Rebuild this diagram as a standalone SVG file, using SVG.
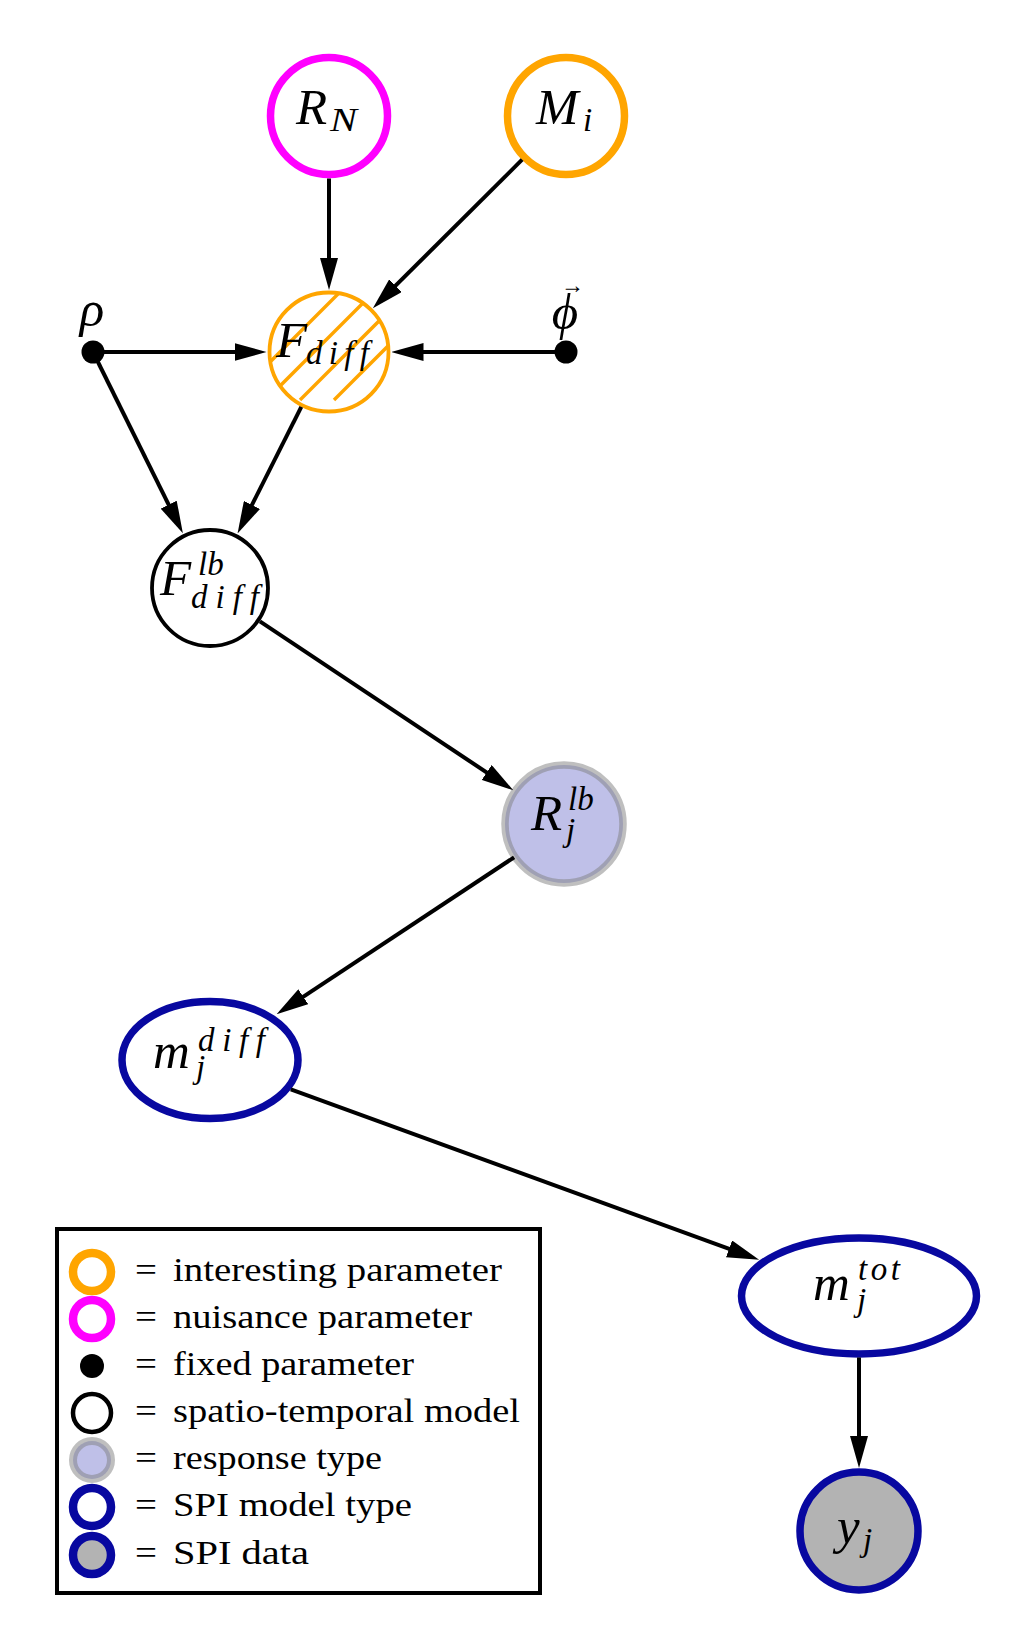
<svg xmlns="http://www.w3.org/2000/svg" width="1033" height="1651" viewBox="0 0 1033 1651">
<style>
.lbl{font-family:"Liberation Serif","DejaVu Serif",serif;font-style:italic;fill:#000}
.big{font-size:51px}
.sm{font-size:33px}
.leg{font-family:"Liberation Serif","DejaVu Serif",serif;font-size:34px;fill:#000}
.edge{stroke:#000;stroke-width:4;fill:none;marker-end:url(#ah)}
.interesting{fill:#fff;stroke:#FFA500}
.nuisance{fill:#fff;stroke:#FF00FF}
.spatio{fill:#fff;stroke:#000}
.response{fill:#bfc0e8;stroke:#808080;stroke-opacity:0.5}
.spimodel{fill:#fff;stroke:#0808A0}
.spidata{fill:#b3b3b3;stroke:#0808A0}
.fixed{fill:#000}
.hatch{stroke:#FFA500;stroke-width:3.4}
</style>
<defs>
<marker id="ah" markerUnits="userSpaceOnUse" markerWidth="32" markerHeight="18" viewBox="0 0 32 18" refX="17" refY="9" orient="auto"><path d="M0,0 L32,9 L0,18 Z" fill="#000"/></marker>
<clipPath id="fclip"><circle cx="329" cy="352" r="60"/></clipPath>
</defs>
<rect width="1033" height="1651" fill="#fff"/>

<g id="node-RN">
<circle class="nuisance" cx="329" cy="116" r="58.5" stroke-width="7.5"/>
<text class="lbl"><tspan class="big" x="296" y="124">R</tspan><tspan class="sm" x="330" y="131" textLength="27" lengthAdjust="spacingAndGlyphs">N</tspan></text>
</g>

<g id="node-Mi">
<circle class="interesting" cx="566" cy="116" r="58.5" stroke-width="7.5"/>
<text class="lbl"><tspan class="big" x="536" y="124">M</tspan><tspan class="sm" x="583" y="131">i</tspan></text>
</g>

<g id="node-Fdiff">
<circle cx="329" cy="352" r="60" fill="#fff"/>
<g clip-path="url(#fclip)">
<line class="hatch" x1="232" y1="400" x2="432" y2="200"/>
<line class="hatch" x1="266" y1="400" x2="466" y2="200"/>
<line class="hatch" x1="300" y1="400" x2="500" y2="200"/>
<line class="hatch" x1="334" y1="400" x2="534" y2="200"/>
</g>
<circle cx="329" cy="352" r="59.5" fill="none" stroke="#FFA500" stroke-width="3.8"/>
<text class="lbl"><tspan class="big" x="276" y="357">F</tspan><tspan class="sm" x="306" y="364" textLength="63" lengthAdjust="spacing">diff</tspan></text>
</g>

<g id="node-rho">
<circle class="fixed" cx="93" cy="352" r="11.5"/>
<text class="lbl big" x="92" y="326" text-anchor="middle">ρ</text>
</g>

<g id="node-phi">
<circle class="fixed" cx="566" cy="352" r="11.5"/>
<text class="lbl"><tspan class="big" x="565" y="329" text-anchor="middle">ϕ</tspan><tspan x="561" y="293" font-size="24" font-style="normal" textLength="23" lengthAdjust="spacingAndGlyphs">→</tspan></text>
</g>

<g id="node-Flb">
<circle class="spatio" cx="210" cy="588" r="58" stroke-width="3.8"/>
<text class="lbl"><tspan class="big" x="160" y="595">F</tspan><tspan class="sm" x="198" y="575">lb</tspan><tspan class="sm" x="191" y="608" textLength="68" lengthAdjust="spacing">diff</tspan></text>
</g>

<g id="node-Rlb">
<circle class="response" cx="564" cy="824" r="59" stroke-width="7.5"/>
<text class="lbl"><tspan class="big" x="531" y="830">R</tspan><tspan class="sm" x="568" y="810">lb</tspan><tspan class="sm" x="566" y="841">j</tspan></text>
</g>

<g id="node-mdiff">
<ellipse class="spimodel" cx="210" cy="1060" rx="88" ry="58.5" stroke-width="7.5"/>
<text class="lbl"><tspan class="big" x="153" y="1068">m</tspan><tspan class="sm" x="198" y="1051" textLength="67" lengthAdjust="spacing">diff</tspan><tspan class="sm" x="196" y="1078">j</tspan></text>
</g>

<g id="node-mtot">
<ellipse class="spimodel" cx="859" cy="1296" rx="117.5" ry="58" stroke-width="7.5"/>
<text class="lbl"><tspan class="big" x="813" y="1300">m</tspan><tspan class="sm" x="858" y="1280" textLength="42" lengthAdjust="spacing">tot</tspan><tspan class="sm" x="857" y="1311">j</tspan></text>
</g>

<g id="node-yj">
<circle class="spidata" cx="859" cy="1531" r="59" stroke-width="7.5"/>
<text class="lbl"><tspan class="big" x="837" y="1543">y</tspan><tspan class="sm" x="863" y="1551">j</tspan></text>
</g>

<g id="legend">
<rect x="57" y="1229" width="483" height="364" fill="#fff" stroke="#000" stroke-width="4"/>
<circle class="interesting" cx="92" cy="1272" r="19" stroke-width="8.5"/>
<circle class="nuisance" cx="92" cy="1319" r="19" stroke-width="8.5"/>
<circle class="fixed" cx="92" cy="1366" r="12"/>
<circle class="spatio" cx="92" cy="1413" r="19" stroke-width="4.5"/>
<circle class="response" cx="92" cy="1460" r="19" stroke-width="8"/>
<circle class="spimodel" cx="92" cy="1507" r="19" stroke-width="8.5"/>
<circle class="spidata" cx="92" cy="1555" r="19" stroke-width="8.5"/>
<text class="leg"><tspan x="135" y="1281" textLength="22" lengthAdjust="spacingAndGlyphs">=</tspan> <tspan x="173" y="1281" textLength="329" lengthAdjust="spacingAndGlyphs">interesting parameter</tspan></text>
<text class="leg"><tspan x="135" y="1328" textLength="22" lengthAdjust="spacingAndGlyphs">=</tspan> <tspan x="173" y="1328" textLength="299" lengthAdjust="spacingAndGlyphs">nuisance parameter</tspan></text>
<text class="leg"><tspan x="135" y="1375" textLength="22" lengthAdjust="spacingAndGlyphs">=</tspan> <tspan x="173" y="1375" textLength="241" lengthAdjust="spacingAndGlyphs">fixed parameter</tspan></text>
<text class="leg"><tspan x="135" y="1422" textLength="22" lengthAdjust="spacingAndGlyphs">=</tspan> <tspan x="173" y="1422" textLength="347" lengthAdjust="spacingAndGlyphs">spatio-temporal model</tspan></text>
<text class="leg"><tspan x="135" y="1469" textLength="22" lengthAdjust="spacingAndGlyphs">=</tspan> <tspan x="173" y="1469" textLength="209" lengthAdjust="spacingAndGlyphs">response type</tspan></text>
<text class="leg"><tspan x="135" y="1516" textLength="22" lengthAdjust="spacingAndGlyphs">=</tspan> <tspan x="173" y="1516" textLength="239" lengthAdjust="spacingAndGlyphs">SPI model type</tspan></text>
<text class="leg"><tspan x="135" y="1564" textLength="22" lengthAdjust="spacingAndGlyphs">=</tspan> <tspan x="173" y="1564" textLength="136" lengthAdjust="spacingAndGlyphs">SPI data</tspan></text>
</g>

<g id="connectors">
<line class="edge" x1="329" y1="178.5" x2="329" y2="275"/>
<line class="edge" x1="522.1" y1="159.7" x2="383.5" y2="297.7"/>
<line class="edge" x1="93" y1="352" x2="251.5" y2="352"/>
<line class="edge" x1="566" y1="352" x2="406.5" y2="352"/>
<line class="edge" x1="93" y1="352" x2="176.2" y2="519.9"/>
<line class="edge" x1="301.3" y1="406.9" x2="244.3" y2="520.1"/>
<line class="edge" x1="259.9" y1="621.3" x2="500.8" y2="781.9"/>
<line class="edge" x1="514.1" y1="857.3" x2="289.1" y2="1006.1"/>
<line class="edge" x1="290.8" y1="1089.4" x2="745" y2="1254.7"/>
<line class="edge" x1="859" y1="1357.5" x2="859" y2="1453"/>
</g>
</svg>
